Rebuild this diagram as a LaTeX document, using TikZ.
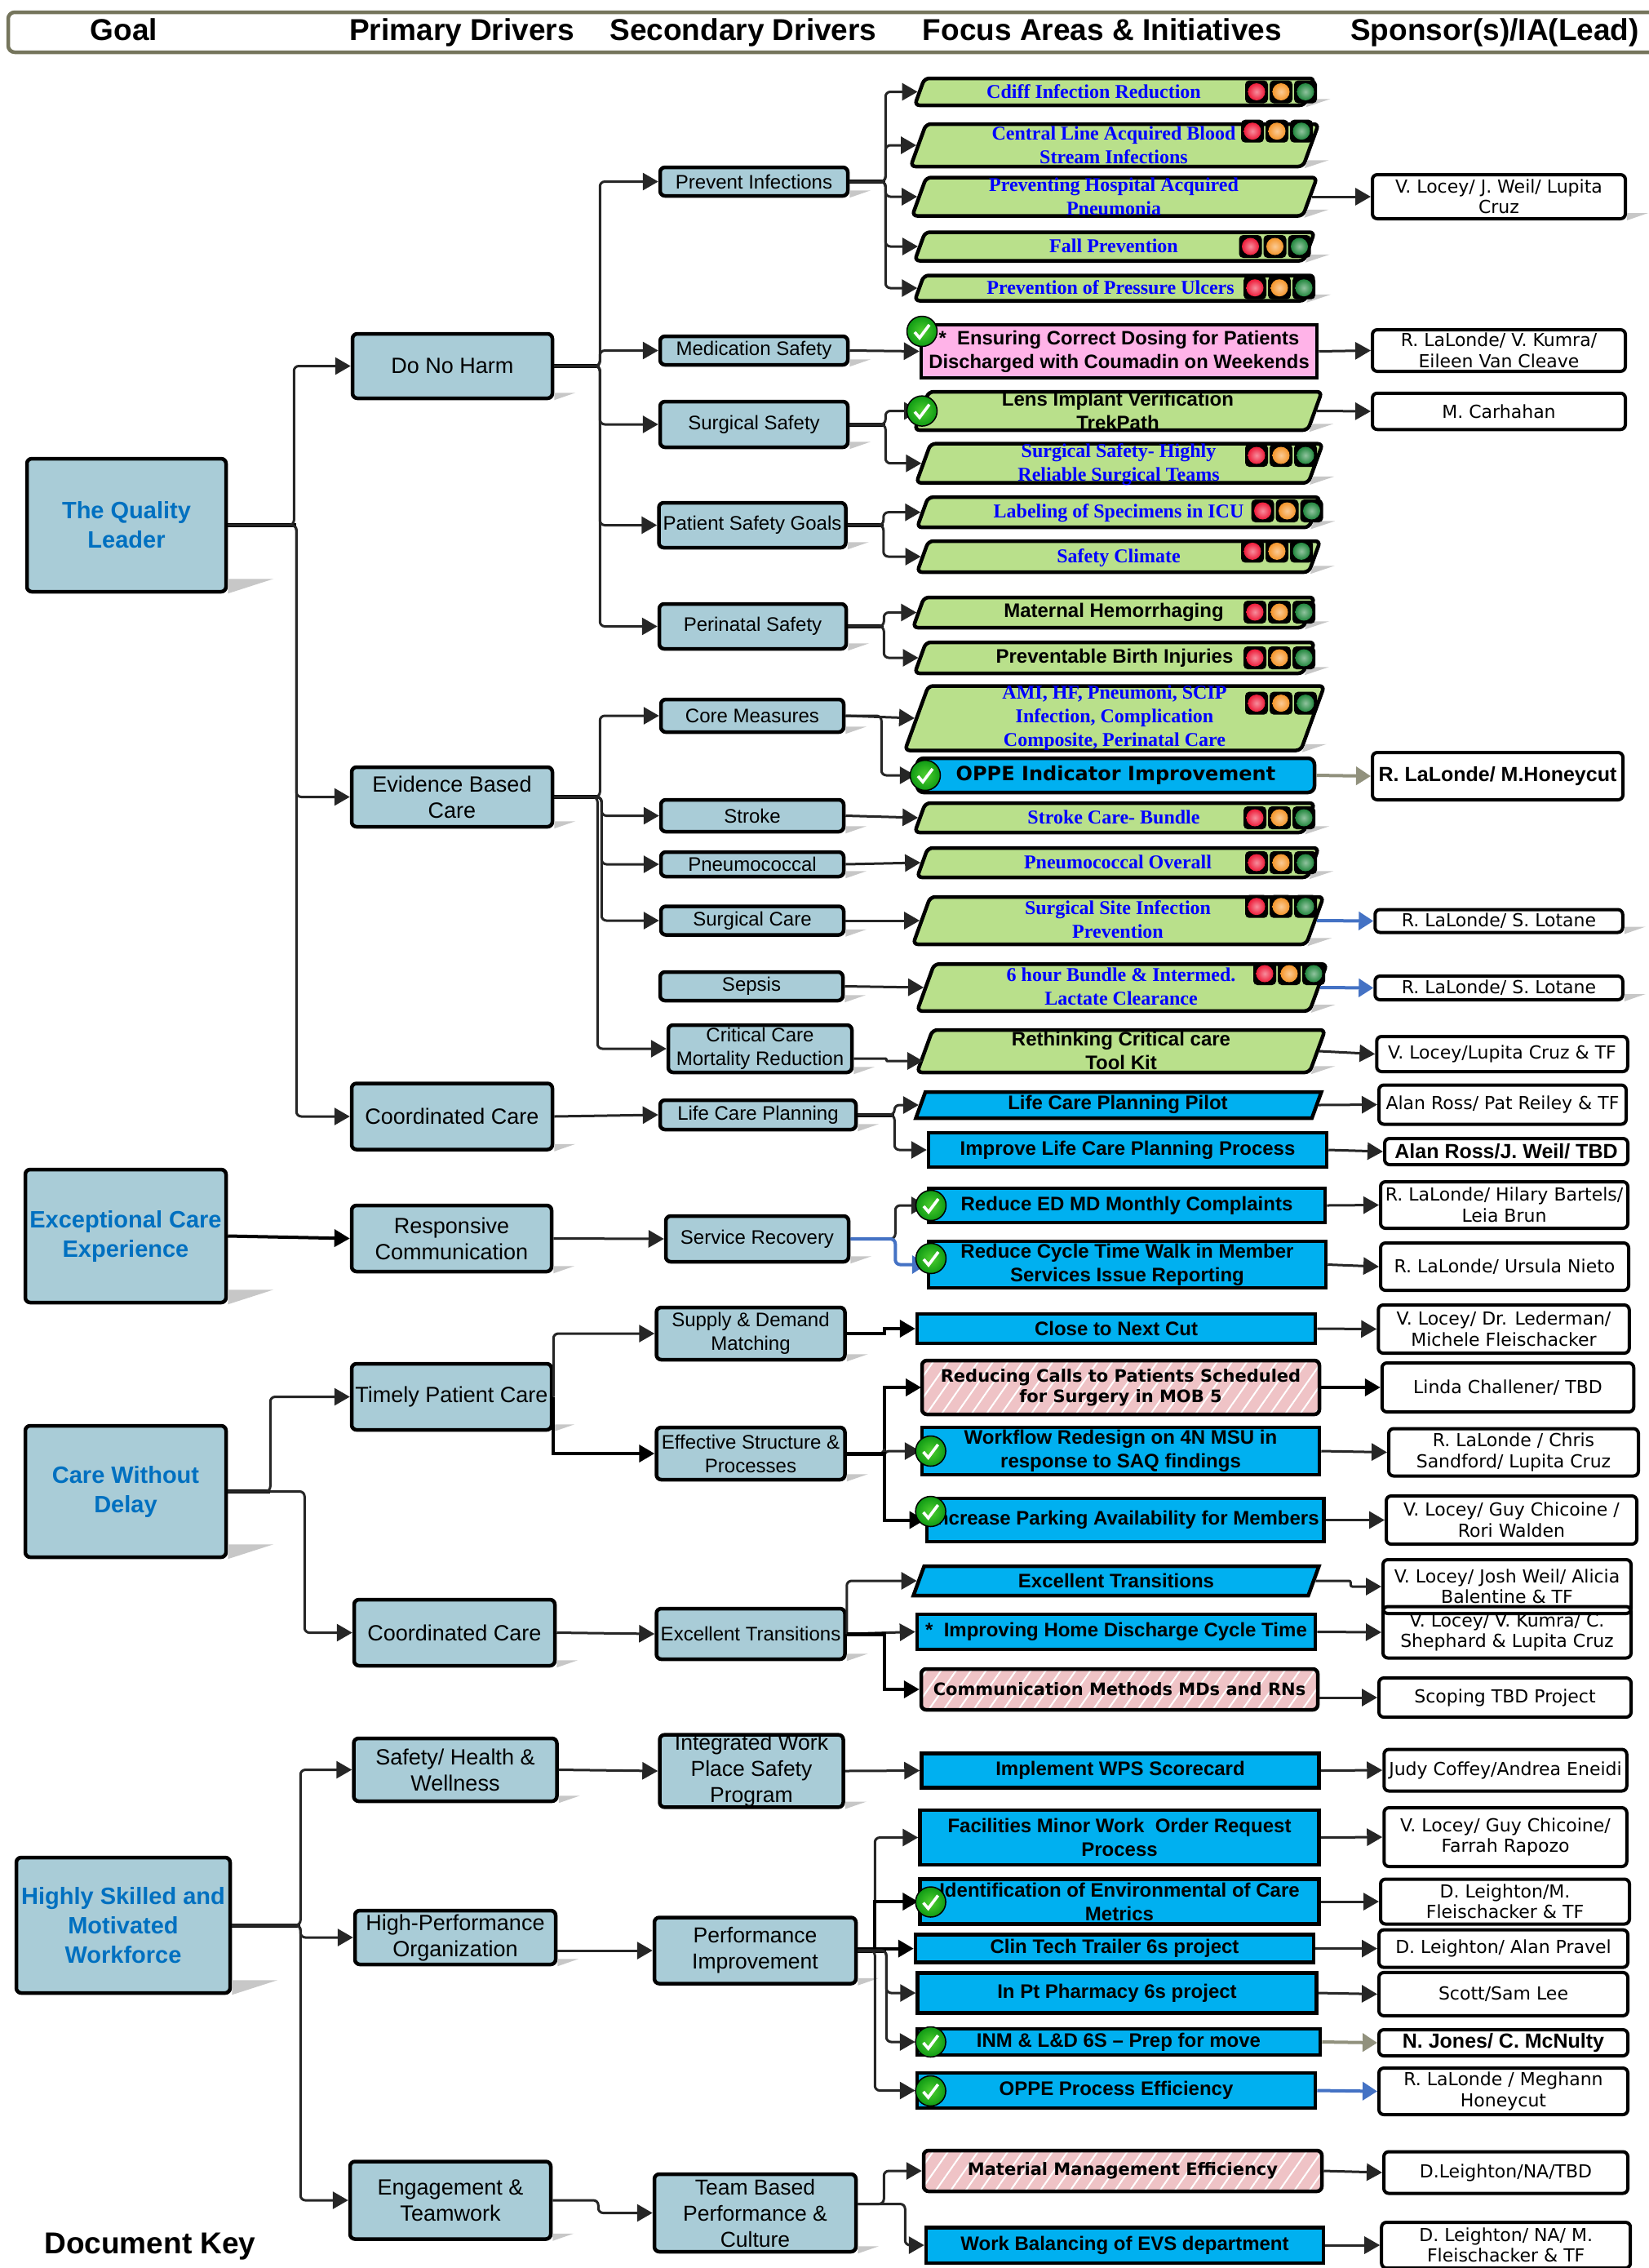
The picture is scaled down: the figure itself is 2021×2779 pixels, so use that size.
\documentclass[tikz,border=0pt]{standalone}
\usepackage{fontspec}
\setmainfont{Liberation Sans}
\newfontfamily\serfont{Liberation Serif}
\newfontfamily\dejafont{DejaVu Sans}
\usetikzlibrary{arrows.meta}
\usetikzlibrary{shapes.geometric}
\usetikzlibrary{patterns.meta}
\definecolor{driverblue}{HTML}{A9CCD7}
\definecolor{goalblue}{HTML}{0070C0}
\definecolor{focusgreen}{HTML}{B9E08B}
\definecolor{skyblue}{HTML}{00B0F0}
\definecolor{pinkfill}{HTML}{FFB3E8}
\definecolor{hatchpink}{HTML}{EFC3C6}
\definecolor{headolive}{HTML}{75755C}
\definecolor{linkblue}{HTML}{4472C4}
\definecolor{lampred}{HTML}{EE1C3A}
\definecolor{lamporange}{HTML}{F5962B}
\definecolor{lampgreen}{HTML}{23883F}
\definecolor{okinner}{HTML}{4FD02F}
\definecolor{okouter}{HTML}{0F9A14}
\newcommand{\sz}[2]{\fontsize{#1}{#2}\selectfont}
\newcommand{\lamps}[2]{\foreach \k/\c in {0/lampred,30/lamporange,60/lampgreen}{
	\fill[black,rounded corners=5pt] (#1+\k-14,#2-14) rectangle (#1+\k+14,#2+14);
	\shade[inner color=\c!50,outer color=\c] (#1+\k,#2) circle (10.5);}}

\begin{document}
\begin{tikzpicture}[x=1pt,y=-1pt,
	boxsize/.style 2 args={minimum width=#1pt-4pt,minimum height=#2pt-4pt},
	parasize/.style 2 args={minimum width=#1pt-4pt,minimum height=#2pt-4pt,inner ysep={(#2pt-4pt)/2}},
	okmark/.style={circle,minimum size=37pt,inner sep=0,draw=black,line width=1.5pt,inner color=okinner,outer color=okouter,
		path picture={\draw[white,line width=3.6pt] (path picture bounding box.center) ++(-9,1) -- ++(6,7) -- ++(12,-16);}}]
	\tikzstyle{base}=[inner sep=0,align=center,line width=4.5pt]
	\tikzstyle{head}=[inner sep=0,text height=27pt,text depth=8pt,font=\bfseries\sz{37}{44}]
	\tikzstyle{goal}=[base,rounded corners=6pt,draw=black,fill=driverblue,text=goalblue,font=\bfseries\sz{29}{36}]
	\tikzstyle{primary}=[base,rounded corners=6pt,draw=black,fill=driverblue,font=\sz{27}{32}]
	\tikzstyle{second}=[base,rounded corners=6pt,draw=black,fill=driverblue,font=\sz{24}{29}]
	\tikzstyle{secondbig}=[second,font=\sz{26.5}{32}]
	\tikzstyle{focus}=[inner xsep=0,line width=4.5pt,trapezium,trapezium left angle=70,trapezium right angle=110,trapezium stretches body=true,rounded corners=6pt,draw=black,fill=focusgreen]
	\tikzstyle{skypara}=[focus,rounded corners=0pt,fill=skyblue]
	\tikzstyle{skybox}=[base,draw=black,fill=skyblue,font=\bfseries\sz{24}{29}]
	\tikzstyle{hatchbox}=[base,rounded corners=6pt,draw=black,preaction={fill=hatchpink},pattern={Lines[angle=55,distance=15pt,line width=2pt]},pattern color=white,font=\dejafont\bfseries\sz{21}{25}]
	\tikzstyle{bluetxt}=[inner sep=0,align=center,text=blue,font=\serfont\bfseries\sz{24}{29}]
	\tikzstyle{blacktxt}=[inner sep=0,align=center,font=\bfseries\sz{24}{29}]
	\tikzstyle{sponsor}=[base,line width=4pt,rounded corners=6pt,draw=black,fill=white,font=\dejafont\sz{22}{25.5}]
	\tikzstyle{sponsorbold}=[sponsor,font=\bfseries\sz{25}{30}]
	\tikzstyle{conn}=[draw=black!85,line width=3pt,rounded corners=6pt,-{Triangle[length=19pt,width=21pt]}]
	\tikzstyle{connthick}=[conn,draw=black,line width=4pt]
	\tikzstyle{connolive}=[conn,draw=headolive!80,line width=4pt,-{Triangle[length=18pt,width=22pt]}]
	\tikzstyle{connblue}=[conn,draw=linkblue,line width=4pt,-{Triangle[length=18pt,width=22pt]}]
	\tikzstyle{stem}=[draw=black,line width=5pt]
	\tikzstyle{tail}=[fill=black!22]

	\useasboundingbox (0,0) rectangle (2021,2779);

	% Draw header
	\node[base,rounded corners=8pt,draw=headolive,boxsize={2040}{53}] (header) at (1028,39.5) {};
	\node[head] (headgoal) at (152,39.5) {Goal};
	\node[head] (headprimary) at (566,39.5) {Primary Drivers};
	\node[head] (headsecond) at (911,39.5) {Secondary Drivers};
	\node[head] (headfocus) at (1351,39.5) {Focus Areas \& Initiatives};
	\node[head] (headsponsor) at (1832,39.5) {Sponsor(s)/IA(Lead)};
	\node[head] (dockey) at (184,2751.5) {Document Key};

	% Draw goals
	\node[goal,boxsize={248}{167}] (quality) at (155,643.5) {The Quality\\Leader};
	\node[goal,boxsize={250}{167}] (exceptional) at (154,1514.5) {Exceptional Care\\Experience};
	\node[goal,boxsize={250}{165}] (delay) at (154,1827.5) {Care Without\\Delay};
	\node[goal,boxsize={266}{170}] (skilled) at (151,2359) {Highly Skilled and\\Motivated\\Workforce};

	% Draw primary drivers
	\node[primary,boxsize={249}{83}] (harm) at (554.5,448.5) {Do No Harm};
	\node[primary,boxsize={250}{77}] (evidence) at (554,976.5) {Evidence Based\\Care};
	\node[primary,boxsize={250}{85}] (coordone) at (554,1368) {Coordinated Care};
	\node[primary,boxsize={249}{85}] (responsive) at (553.5,1517.5) {Responsive\\Communication};
	\node[primary,boxsize={249}{85}] (timely) at (553.5,1711.5) {Timely Patient Care};
	\node[primary,boxsize={250}{85}] (coordtwo) at (557,2000.5) {Coordinated Care};
	\node[primary,boxsize={253}{81}] (wellness) at (558,2168.5) {Safety/ Health \&\\Wellness};
	\node[primary,boxsize={250}{70}] (highperf) at (558,2374) {High-Performance\\Organization};
	\node[primary,boxsize={250}{99}] (engage) at (552,2696) {Engagement \&\\Teamwork};

	% Draw secondary drivers
	\node[second,boxsize={234}{39}] (prevent) at (924,222.5) {Prevent Infections};
	\node[second,boxsize={234}{39}] (medication) at (924,429.5) {Medication Safety};
	\node[second,boxsize={234}{60}] (surgical) at (924,520) {Surgical Safety};
	\node[second,boxsize={233}{59}] (goals) at (922,643.5) {Patient Safety Goals};
	\node[second,boxsize={233}{59}] (perinatal) at (922.5,767.5) {Perinatal Safety};
	\node[second,boxsize={228}{44}] (core) at (922,877) {Core Measures};
	\node[second,boxsize={228}{43}] (stroke) at (922,999.5) {Stroke};
	\node[second,boxsize={228}{34}] (pneumo) at (922,1059) {Pneumococcal};
	\node[second,boxsize={228}{39}] (surgcare) at (922,1128) {Surgical Care};
	\node[second,boxsize={228}{39}] (sepsis) at (921,1208.5) {Sepsis};
	\node[second,boxsize={229}{62}] (critical) at (931.5,1285) {Critical Care\\Mortality Reduction};
	\node[second,boxsize={244}{40}] (lifecare) at (929,1366) {Life Care Planning};
	\node[second,boxsize={228}{60}] (recovery) at (928,1518) {Service Recovery};
	\node[second,boxsize={235}{68}] (supply) at (920,1634) {Supply \& Demand\\Matching};
	\node[second,boxsize={235}{68}] (structure) at (920,1781) {Effective Structure \&\\Processes};
	\node[second,boxsize={235}{66}] (transitions) at (920,2002) {Excellent Transitions};
	\node[secondbig,boxsize={229}{92},yshift=-2pt] (workplace) at (921,2168) {Integrated Work\\Place Safety\\Program};
	\node[secondbig,boxsize={251}{85}] (improve) at (925.5,2390) {Performance\\Improvement};
	\node[secondbig,boxsize={251}{99}] (team) at (925.5,2711.5) {Team Based\\Performance \&\\Culture};

	% Draw focus areas and initiatives
	\node[focus,parasize={494}{37}] (cdiff) at (1366,112.5) {};
	\node[bluetxt] (cdifftxt) at (1340.5,112.5) {Cdiff Infection Reduction};
	\node[focus,parasize={504}{56}] (central) at (1366,178) {};
	\node[bluetxt] (centraltxt) at (1365,178) {Central Line Acquired Blood\\Stream Infections};
	\node[focus,parasize={500}{51}] (hospital) at (1366,241) {};
	\node[bluetxt] (hospitaltxt) at (1365,241) {Preventing Hospital Acquired\\Pneumonia};
	\node[focus,parasize={494}{39}] (fall) at (1366,302) {};
	\node[bluetxt] (falltxt) at (1365,301) {Fall Prevention};
	\node[focus,parasize={494}{35}] (ulcers) at (1366,353) {};
	\node[bluetxt] (ulcerstxt) at (1361,352) {Prevention of Pressure Ulcers};
	\node[base,draw=black,fill=pinkfill,boxsize={489}{69},font=\bfseries\sz{23.8}{29}] (dosing) at (1371.5,430.5) {*\ \ Ensuring Correct Dosing for Patients\\Discharged with Coumadin on Weekends};
	\node[focus,parasize={503}{51}] (lens) at (1370.5,503.5) {};
	\node[blacktxt] (lenstxt) at (1370,503) {Lens Implant Verification\\TrekPath};
	\node[focus,parasize={502}{52}] (reliable) at (1372,567.7) {};
	\node[bluetxt] (reliabletxt) at (1371,569) {Surgical Safety- Highly\\Reliable Surgical Teams};
	\node[focus,parasize={498}{41}] (labeling) at (1371,627.7) {};
	\node[bluetxt] (labelingtxt) at (1371,628.5) {Labeling of Specimens in ICU};
	\node[focus,parasize={498}{42}] (climate) at (1371,682) {};
	\node[bluetxt] (climatetxt) at (1371,683.5) {Safety Climate};
	\node[focus,parasize={496}{41}] (maternal) at (1365,750.5) {};
	\node[blacktxt] (maternaltxt) at (1365,750) {Maternal Hemorrhaging};
	\node[focus,parasize={494}{42}] (birth) at (1366,806) {};
	\node[blacktxt] (birthtxt) at (1366,806) {Preventable Birth Injuries};
	\node[focus,parasize={518}{83}] (ami) at (1366,880) {};
	\node[bluetxt] (amitxt) at (1366,879.5) {AMI, HF, Pneumoni, SCIP\\Infection, Complication\\Composite, Perinatal Care};
	\node[base,rounded corners=8pt,draw=black,fill=skyblue,boxsize={491}{46},font=\dejafont\bfseries\sz{24}{29}] (oppe) at (1367.5,950) {OPPE Indicator Improvement};
	\node[focus,parasize={494}{40}] (strokecare) at (1366,1002) {};
	\node[bluetxt] (strokecaretxt) at (1365,1001) {Stroke Care- Bundle};
	\node[focus,parasize={496}{40}] (pneumoall) at (1370,1057) {};
	\node[bluetxt] (pneumoalltxt) at (1370,1056) {Pneumococcal Overall};
	\node[focus,parasize={507}{62}] (ssi) at (1370.5,1128) {};
	\node[bluetxt] (ssitxt) at (1370,1127) {Surgical Site Infection\\Prevention};
	\node[focus,parasize={506}{61.5}] (bundle) at (1375,1210) {};
	\node[bluetxt] (bundletxt) at (1374,1208.5) {6 hour Bundle \& Intermed.\\Lactate Clearance};
	\node[focus,parasize={504}{56}] (rethink) at (1374,1288) {};
	\node[blacktxt] (rethinktxt) at (1374,1287.5) {Rethinking Critical care\\Tool Kit};
	\node[skypara,parasize={501}{36}] (pilot) at (1371,1354) {};
	\node[blacktxt] (pilottxt) at (1370,1353.5) {Life Care Planning Pilot};
	\node[skybox,boxsize={492}{46}] (lcprocess) at (1382,1409) {Improve Life Care Planning Process};
	\node[skybox,boxsize={490}{46}] (complaints) at (1381,1477) {Reduce ED MD Monthly Complaints};
	\node[skybox,boxsize={491}{61}] (cycle) at (1381.5,1549.5) {Reduce Cycle Time Walk in Member\\Services Issue Reporting};
	\node[skybox,boxsize={492}{40}] (nextcut) at (1368,1628) {Close to Next Cut};
	\node[hatchbox,boxsize={491}{70}] (calls) at (1373.5,1700) {Reducing Calls to Patients Scheduled\\for Surgery in MOB 5};
	\node[skybox,boxsize={491}{62}] (workflow) at (1373.5,1778) {Workflow Redesign on 4N MSU in\\response to SAQ findings};
	\node[skybox,boxsize={490.5}{57}] (parking) at (1379,1862.5) {Increase Parking Availability for Members};
	\node[skypara,parasize={501}{40}] (transfocus) at (1368,1937) {};
	\node[blacktxt] (transfocustxt) at (1368,1937) {Excellent Transitions};
	\node[skybox,boxsize={492}{47}] (homedis) at (1368,1999.5) {*\ \ Improving Home Discharge Cycle Time};
	\node[hatchbox,boxsize={490}{54}] (commeth) at (1372,2070) {Communication Methods MDs and RNs};
	\node[skybox,boxsize={491}{46}] (scorecard) at (1373,2169.5) {Implement WPS Scorecard};
	\node[skybox,boxsize={493}{71}] (minorwork) at (1372,2251.5) {Facilities Minor Work\ \ Order Request\\Process};
	\node[skybox,boxsize={493}{59}] (envcare) at (1372,2330) {Identification of Environmental of Care\\Metrics};
	\node[skybox,boxsize={492}{38}] (clintech) at (1366,2387.6) {Clin Tech Trailer 6s project};
	\node[skybox,boxsize={493}{53}] (pharmacy) at (1369,2442) {In Pt Pharmacy 6s project};
	\node[skybox,boxsize={498}{36}] (inmld) at (1371,2502) {INM \& L\&D 6S -- Prep for move};
	\node[skybox,boxsize={492}{47}] (oppeproc) at (1368,2561.5) {OPPE Process Efficiency};
	\node[hatchbox,boxsize={492}{54}] (material) at (1376,2660) {Material Management Efficiency};
	\node[skybox,boxsize={491}{47.5}] (evs) at (1378.5,2751) {Work Balancing of EVS department};

	% Draw sponsors
	\node[sponsor,boxsize={314}{58}] (spweil) at (1837,241) {V. Locey/ J. Weil/ Lupita\\Cruz};
	\node[sponsor,boxsize={314}{55}] (spkumra) at (1837,429.5) {R. LaLonde/ V. Kumra/\\Eileen Van Cleave};
	\node[sponsor,boxsize={314}{48.5}] (spcarh) at (1837,504) {M. Carhahan};
	\node[sponsorbold,boxsize={311}{62}] (sphoney) at (1835.5,951) {R. LaLonde/ M.Honeycut};
	\node[sponsor,boxsize={307.5}{32}] (splotone) at (1837,1128.5) {R. LaLonde/ S. Lotane};
	\node[sponsor,boxsize={307.5}{33}] (splottwo) at (1837,1210.5) {R. LaLonde/ S. Lotane};
	\node[sponsor,boxsize={311.5}{47}] (spcruz) at (1841,1291.5) {V. Locey/Lupita Cruz \& TF};
	\node[sponsor,boxsize={307}{52}] (spreiley) at (1841.5,1353.5) {Alan Ross/ Pat Reiley \& TF};
	\node[sponsorbold,boxsize={302}{36}] (sprossbold) at (1846,1411) {Alan Ross/J. Weil/ TBD};
	\node[sponsor,boxsize={307}{61}] (sphilary) at (1843.5,1476.5) {R. LaLonde/ Hilary Bartels/\\Leia Brun};
	\node[sponsor,boxsize={308}{62}] (spnieto) at (1844,1552) {R. LaLonde/ Ursula Nieto};
	\node[sponsor,boxsize={311.5}{63}] (spleder) at (1843,1628.5) {V. Locey/ Dr. Lederman/\\Michele Fleischacker};
	\node[sponsor,boxsize={312.5}{64}] (splinda) at (1848,1700) {Linda Challener/ TBD};
	\node[sponsor,boxsize={310}{62}] (spchris) at (1855,1779.5) {R. LaLonde / Chris\\Sandford/ Lupita Cruz};
	\node[sponsor,boxsize={311}{63}] (sprori) at (1852.5,1862.5) {V. Locey/ Guy Chicoine /\\Rori Walden};
	\node[sponsor,boxsize={308}{70}] (spjosh) at (1847,1944) {V. Locey/ Josh Weil/ Alicia\\Balentine \& TF};
	\node[sponsor,fill=none,boxsize={308}{67}] (spshep) at (1847,2000) {V. Locey/ V. Kumra/ C.\\Shephard \& Lupita Cruz};
	\node[sponsor,boxsize={313}{52}] (spscope) at (1844.5,2080) {Scoping TBD Project};
	\node[sponsor,boxsize={301.5}{55}] (spjudy) at (1845,2169) {Judy Coffey/Andrea Eneidi};
	\node[sponsor,boxsize={301.5}{76}] (spfarrah) at (1845,2251) {V. Locey/ Guy Chicoine/\\Farrah Rapozo};
	\node[sponsor,boxsize={309}{59}] (spfleisch) at (1844.5,2330) {D. Leighton/M.\\Fleischacker \& TF};
	\node[sponsor,boxsize={309}{50}] (sppravel) at (1842.5,2387.6) {D. Leighton/ Alan Pravel};
	\node[sponsor,boxsize={309}{57}] (spscott) at (1842.5,2443.4) {Scott/Sam Lee};
	\node[sponsorbold,boxsize={309}{36}] (spjones) at (1842.5,2503) {N. Jones/ C. McNulty};
	\node[sponsor,boxsize={309}{61}] (spmeghann) at (1842.5,2562.5) {R. LaLonde / Meghann\\Honeycut};
	\node[sponsor,boxsize={303}{55}] (sptbd) at (1845.5,2662) {D.Leighton/NA/TBD};
	\node[sponsor,boxsize={309}{60}] (spevs) at (1845.7,2751) {D. Leighton/ NA/ M.\\Fleischacker \& TF};

	% Draw shadows
	\foreach \n in {quality,exceptional,delay,skilled}
		\fill[tail] (\n.south east) -- ++(56,-18) -- ++(-56,0) -- cycle;
	\foreach \n in {harm,evidence,coordone,responsive,timely,coordtwo,wellness,highperf,engage,prevent,medication,surgical,goals,perinatal,core,stroke,pneumo,surgcare,sepsis,critical,lifecare,recovery,supply,structure,transitions,workplace,improve,team,spweil,splotone,splottwo}
		\fill[tail] (\n.south east) -- ++(26,-9) -- ++(-26,0) -- cycle;
	\foreach \n in {cdiff,central,hospital,fall,ulcers,lens,reliable,labeling,climate,maternal,birth,ami,strokecare,pneumoall,ssi,bundle,rethink}
		\fill[tail] (\n.bottom right corner) -- ++(30,-10) -- ++(-26,0) -- cycle;

	% Draw arrows from goals
	\draw[stem] (quality.east) -- ++(84,0);
	\draw[conn] (quality.east) -- ++(81,0) |- (harm.west);
	\draw[conn] (quality.east) -- ++(84,0) |- (evidence.west);
	\draw[conn] (quality.east) -- ++(84,0) |- (coordone.west);
	\draw[connthick] (exceptional.east) -- (responsive.west);
	\draw[stem] (delay.east) -- ++(52,0);
	\draw[conn] (delay.east) -- ++(52,0) |- (timely.west);
	\draw[conn] (delay.east) -- ++(94,0) |- (coordtwo.west);
	\draw[stem] (skilled.east) -- ++(84,0);
	\draw[conn] (skilled.east) -- ++(84,0) |- (wellness.west);
	\draw[conn] (skilled.east) -- ++(84,0) |- (highperf.west);
	\draw[conn] (skilled.east) -- ++(84,0) |- (engage.west);

	% Draw arrows from primary drivers
	\draw[stem] (harm.east) -- ++(56,0);
	\draw[conn] (harm.east) -- ++(56,0) |- (prevent.west);
	\draw[conn] (harm.east) -- ++(56,0) |- (medication.west);
	\draw[conn] (harm.east) -- ++(56,0) |- (surgical.west);
	\draw[conn] (harm.east) -- ++(56,0) |- (goals.west);
	\draw[conn] (harm.east) -- ++(56,0) |- (perinatal.west);
	\draw[stem] (evidence.east) -- ++(56,0);
	\draw[conn] (evidence.east) -- ++(56,0) |- (core.west);
	\draw[conn] (evidence.east) -- ++(58,0) |- (stroke.west);
	\draw[conn] (evidence.east) -- ++(58,0) |- (pneumo.west);
	\draw[conn] (evidence.east) -- ++(58,0) |- (surgcare.west);
	\draw[conn] (evidence.east) -- ++(53,0) |- (critical.west);
	\draw[conn] (coordone.east) -- (lifecare.west);
	\draw[conn] (responsive.east) -- (recovery.west);
	\draw[conn] (timely.east) |- (supply.west);
	\draw[connthick,rounded corners=0pt] (timely.east) |- (structure.west);
	\draw[conn] (coordtwo.east) -- (transitions.west);
	\draw[conn] (wellness.east) -- (workplace.west);
	\draw[conn] (highperf.east |- improve.west) -- (improve.west);
	\draw[conn] (engage.east) -- ++(56,0) |- (team.west);

	% Draw arrows from secondary drivers
	\draw[stem] (prevent.east) -- ++(44,0);
	\draw[conn] (prevent.east) -- ++(44,0) |- (cdiff.west);
	\draw[conn] (prevent.east) -- ++(44,0) |- (central.west);
	\draw[conn] (prevent.east) -- ++(44,0) |- (hospital.west);
	\draw[conn] (prevent.east) -- ++(44,0) |- (fall.west);
	\draw[conn] (prevent.east) -- ++(44,0) |- (ulcers.west);
	\draw[conn] (medication.east) -- (dosing.west);
	\draw[stem] (surgical.east) -- ++(44,0);
	\draw[conn] (surgical.east) -- ++(44,0) |- (lens.west);
	\draw[conn] (surgical.east) -- ++(44,0) |- (reliable.west);
	\draw[stem] (goals.east) -- ++(44,0);
	\draw[conn] (goals.east) -- ++(44,0) |- (labeling.west);
	\draw[conn] (goals.east) -- ++(44,0) |- (climate.west);
	\draw[stem] (perinatal.east) -- ++(44,0);
	\draw[conn] (perinatal.east) -- ++(44,0) |- (maternal.west);
	\draw[conn] (perinatal.east) -- ++(44,0) |- (birth.west);
	\draw[conn] (core.east) -- (ami.west);
	\draw[conn] (core.east) -- ++(44,0) |- (oppe.west);
	\draw[conn] (stroke.east) -- (strokecare.west);
	\draw[conn] (pneumo.east) -- (pneumoall.west);
	\draw[conn] (surgcare.east) -- (ssi.west);
	\draw[conn] (sepsis.east) -- (bundle.west);
	\draw[conn,rounded corners=1pt] ([yshift=-12pt]critical.east) -- ++(40,0) |- ([yshift=-12pt]rethink.west);
	\draw[stem] (lifecare.east) -- ++(45,0);
	\draw[conn] (lifecare.east) -- ++(45,0) |- (pilot.west);
	\draw[conn] (lifecare.east) -- ++(45,0) |- (lcprocess.west);
	\draw[conn] (recovery.east) -- ++(55,0) |- (complaints.west);
	\draw[connblue] (recovery.east) -- ++(55,0) |- (cycle.west);
	\draw[connthick,rounded corners=0pt] (supply.east) -- ++(46,0) |- (nextcut.west);
	\draw[stem] (structure.east) -- ++(46,0);
	\draw[connthick,rounded corners=0pt] (structure.east) -- ++(46,0) |- (calls.west);
	\draw[conn] (structure.east) -- ++(46,0) |- (workflow.west);
	\draw[connthick,rounded corners=0pt] (structure.east) -- ++(46,0) |- (parking.west);
	\draw[conn] (transitions.east) |- (transfocus.west);
	\draw[stem] (transitions.east) -- ++(46,0);
	\draw[conn] (transitions.east) -- (homedis.west);
	\draw[connthick,rounded corners=0pt] (transitions.east) -- ++(46,0) |- (commeth.west);
	\draw[conn] (workplace.east) -- (scorecard.west);
	\draw[stem] (improve.east) -- ++(35,0);
	\draw[conn] (improve.east) -- ++(21,0) |- (minorwork.west);
	\draw[connthick,rounded corners=0pt] (improve.east) -- ++(21,0) |- (envcare.west);
	\draw[connthick] (improve.east |- clintech.west) -- (clintech.west);
	\draw[conn] (improve.east) -- ++(35,0) |- (pharmacy.west);
	\draw[conn] (improve.east) -- ++(35,0) |- (inmld.west);
	\draw[conn] (improve.east) -- ++(21,0) |- (oppeproc.west);
	\draw[conn] ([yshift=11pt]team.east) -- ++(32,0) |- (material.west);
	\draw[conn] ([yshift=11pt]team.east) -- ++(58,0) |- (evs.west);

	% Draw arrows to sponsors
	\draw[conn] (hospital.east) -- (spweil.west);
	\draw[conn] (dosing.east) -- (spkumra.west);
	\draw[conn] (lens.east) -- (spcarh.west);
	\draw[connolive] (oppe.east) -- (sphoney.west);
	\draw[connblue] (ssi.east) -- (splotone.west);
	\draw[connblue] (bundle.east) -- (splottwo.west);
	\draw[conn] (rethink.east) -- (spcruz.west);
	\draw[conn] (pilot.east) -- (spreiley.west);
	\draw[conn] (lcprocess.east) -- (sprossbold.west);
	\draw[conn] (complaints.east) -- (sphilary.west);
	\draw[conn] (cycle.east) -- (spnieto.west);
	\draw[conn] (nextcut.east) -- (spleder.west);
	\draw[connthick] (calls.east) -- (splinda.west);
	\draw[conn] (workflow.east) -- (spchris.west);
	\draw[conn] (parking.east) -- (sprori.west);
	\draw[conn,rounded corners=2pt] (transfocus.east) -- ++(43,0) |- (spjosh.west);
	\draw[conn] (homedis.east) -- (spshep.west);
	\draw[conn] (commeth.east |- spscope.west) -- (spscope.west);
	\draw[conn] (scorecard.east) -- (spjudy.west);
	\draw[conn] (minorwork.east) -- (spfarrah.west);
	\draw[conn] (envcare.east) -- (spfleisch.west);
	\draw[conn] (clintech.east) -- (sppravel.west);
	\draw[conn] (pharmacy.east) -- (spscott.west);
	\draw[connolive] (inmld.east) -- (spjones.west);
	\draw[connblue] (oppeproc.east) -- (spmeghann.west);
	\draw[conn] (material.east) -- (sptbd.west);
	\draw[conn] (evs.east) -- (spevs.west);

	% Draw status marks
	\node[okmark] (okdosing) at (1130,406) {};
	\node[okmark] (oklens) at (1130,503.6) {};
	\node[okmark] (okoppe) at (1134,950) {};
	\node[okmark] (okcomplaints) at (1141,1477) {};
	\node[okmark] (okcycle) at (1141,1542) {};
	\node[okmark] (okworkflow) at (1140.6,1778) {};
	\node[okmark] (okparking) at (1140.6,1852) {};
	\node[okmark] (okenvcare) at (1140.6,2330.5) {};
	\node[okmark] (okinmld) at (1140.6,2502) {};
	\node[okmark] (okoppeproc) at (1140.6,2562) {};

	% Draw lamps
	\lamps{1540}{112.5}
	\lamps{1535}{160.7}
	\lamps{1532.5}{302}
	\lamps{1538}{352.7}
	\lamps{1540}{558}
	\lamps{1547.5}{626}
	\lamps{1535}{675.4}
	\lamps{1538}{750}
	\lamps{1538}{806}
	\lamps{1540}{861.6}
	\lamps{1538}{1002}
	\lamps{1540}{1057}
	\lamps{1540}{1110.7}
	\lamps{1550}{1193}
\end{tikzpicture}
\end{document}
